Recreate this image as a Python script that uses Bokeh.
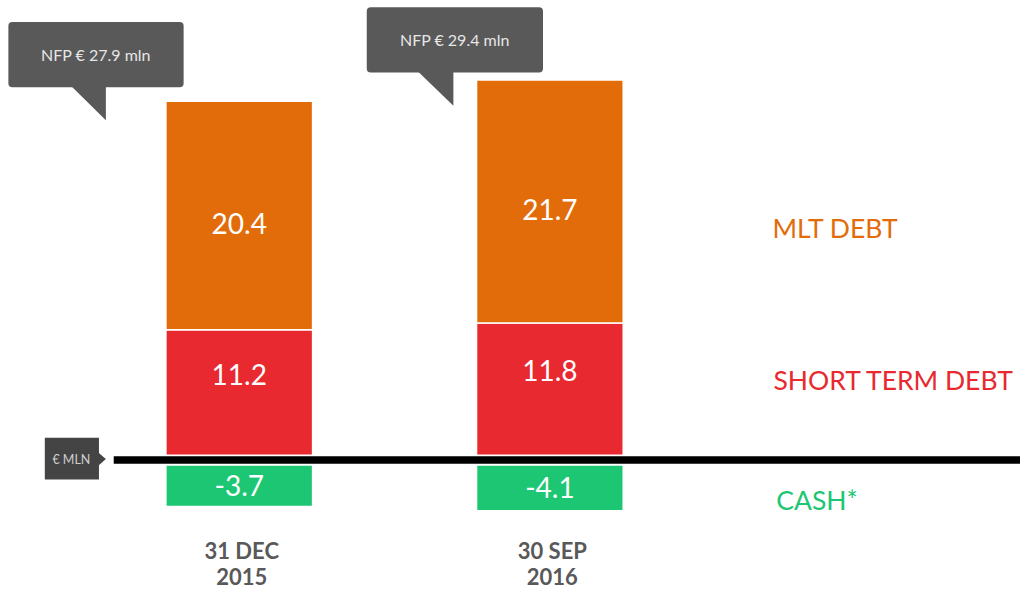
from bokeh.plotting import figure
from bokeh.models import Range1d
from bokeh.core.properties import value
from bokeh.embed import file_html
from bokeh.resources import INLINE

# ---- data ----
periods = ["31 DEC\n2015", "30 SEP\n2016"]
mlt_debt = [20.4, 21.7]
short_term_debt = [11.2, 11.8]
cash = [-3.7, -4.1]
nfp = [27.9, 29.4]
series_names = ["MLT DEBT", "SHORT TERM DEBT", "CASH*"]
unit_label = "€ MLN"

# ---- styles / layout ----
ORANGE = "#E36C0A"
RED = "#E8292F"
GREEN = "#1DC673"
DARK = "#595959"
FONT = "Lato"

W, H = 1020, 592
# reference-image pixel -> data helpers for annotation placement
X0_PX, DX_PX = 242.5, 315.5
Y0_PX, DY_PX = 467.0, 11.5
def X(px):
    return (px - X0_PX) / DX_PX
def Y(py):
    return (Y0_PX - py) / DY_PX

p = figure(width=W, height=H, output_backend="svg", toolbar_location=None,
           x_range=Range1d(X(0), X(1036)), y_range=Range1d(Y(608), Y(0)),
           min_border=0, outline_line_color=None)
p.axis.visible = False
p.grid.visible = False
p.background_fill_color = "white"
p.border_fill_color = "white"

xs = list(range(len(periods)))
bw = 149 / DX_PX
gap = 10 / DY_PX

tops = [s + m for s, m in zip(short_term_debt, mlt_debt)]
p.vbar(x=xs, bottom=0, top=short_term_debt, width=bw, fill_color=RED,
       line_color="white", line_width=1.5)
p.vbar(x=xs, bottom=short_term_debt, top=tops, width=bw, fill_color=ORANGE,
       line_color="white", line_width=1.5)
cash_top = [-gap] * len(cash)
cash_bot = [-gap + c for c in cash]
p.vbar(x=xs, bottom=cash_bot, top=cash_top, width=bw, fill_color=GREEN,
       line_color="white", line_width=1.5)

# baseline
p.segment(x0=[X(115)], y0=[Y(472)], x1=[X(1040)], y1=[Y(472)],
          line_color="black", line_width=7.5, line_cap="butt")

# value labels
lab_kw = dict(text_color="white", text_font=value(FONT), text_font_size="28px",
              text_align="center", text_baseline="middle")
p.text(x=xs, y=[s + m / 2 - 0.7 for s, m in zip(short_term_debt, mlt_debt)],
       text=[f"{v:.1f}" for v in mlt_debt], **lab_kw)
p.text(x=xs, y=[s * 0.64 for s in short_term_debt],
       text=[f"{v:.1f}" for v in short_term_debt], **lab_kw)
p.text(x=xs, y=[-gap + c / 2 for c in cash],
       text=[f"{v:.1f}" for v in cash], **lab_kw)

# category labels
p.text(x=[x + X(245) - X(242.5) for x in xs], y=[Y(578)] * 2, text=periods,
       text_color=DARK, text_font=value(FONT), text_font_size="22px",
       text_font_style="bold", text_align="center", text_baseline="middle",
       text_line_height=0.95)

# series labels on the right
p.text(x=[X(784), X(785), X(788)], y=[Y(234), Y(390), Y(513)], text=series_names,
       text_color=[ORANGE, RED, GREEN], text_font=value(FONT),
       text_font_size="26.5px", text_align="left", text_baseline="middle")

# NFP callouts
boxes = [(8, 186, 22, 89, 72, 107, 123), (372, 551, 7, 74, 424, 460, 108)]
for (l, r, t, b, tx0, tx1, ty), v in zip(boxes, nfp):
    p.quad(left=[X(l)], right=[X(r)], top=[Y(t)], bottom=[Y(b)],
           fill_color=DARK, line_color=None, border_radius=4)
    p.patch(x=[X(tx0), X(tx1), X(tx1)], y=[Y(b - 1), Y(b - 1), Y(ty)],
            fill_color=DARK, line_color=None)
    p.text(x=[X((l + r) / 2)], y=[Y((t + b) / 2)], text=[f"NFP € {v} mln"],
           text_color="#E6E6E6", text_font=value(FONT), text_font_size="16px",
           text_align="center", text_baseline="middle")

# unit tag
p.quad(left=[X(45)], right=[X(100)], top=[Y(449)], bottom=[Y(492)],
       fill_color="#444444", line_color=None)
p.patch(x=[X(99), X(107), X(99)], y=[Y(464), Y(471), Y(478)],
        fill_color="#444444", line_color=None)
p.text(x=[X(72)], y=[Y(471)], text=[unit_label], text_color="#CFCFCF",
       text_font=value(FONT), text_font_size="12.5px", text_align="center",
       text_baseline="middle")

open("out.html", "w").write(file_html(p, INLINE))
